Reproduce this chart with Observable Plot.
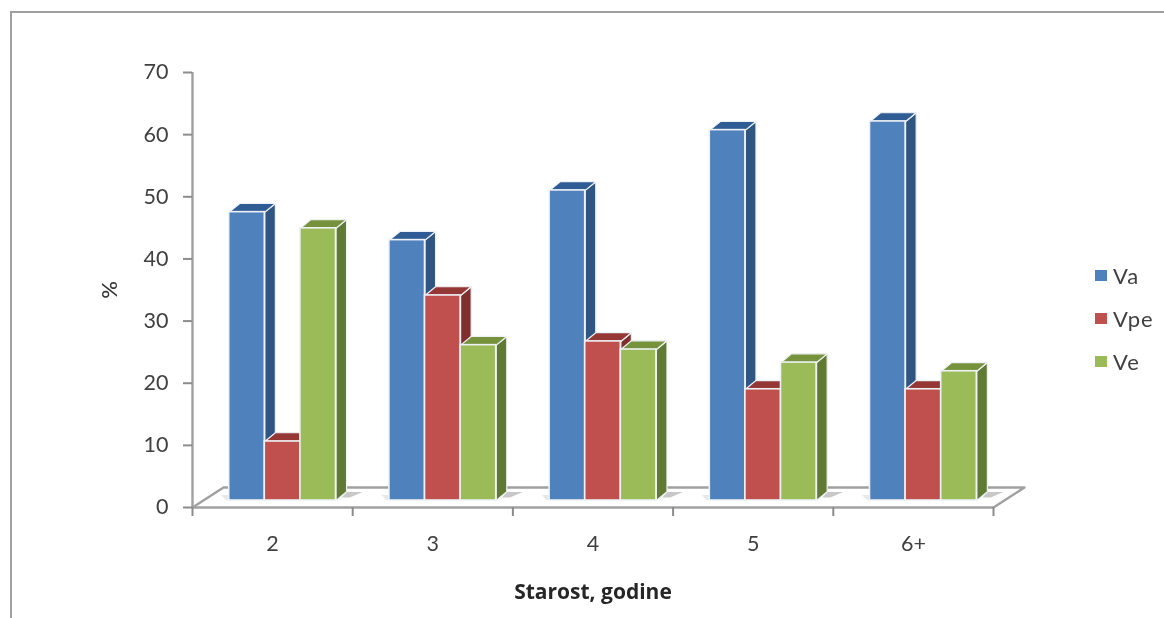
<!DOCTYPE html>
<html>
<head>
<meta charset="utf-8">
<script src="https://cdn.jsdelivr.net/npm/d3@7"></script>
<script src="https://cdn.jsdelivr.net/npm/@observablehq/plot@0.6"></script>
<style>
html,body{margin:0;padding:0;background:#fff;overflow:hidden}
#wrap{position:relative;width:1164px;height:618px;overflow:hidden;font-family:Lato,"Open Sans",sans-serif;filter:blur(0.5px)}
#frame{position:absolute;left:10px;top:11px;width:1170px;height:640px;border:2px solid #a0a0a0;box-sizing:border-box}
#chart{position:absolute;left:0;top:0}
#legend{position:absolute;left:1095px;top:254px;color:#404040;font-size:22px;line-height:43px;letter-spacing:1px}
#legend div{display:flex;align-items:center;height:43px}
#legend i{display:inline-block;width:12px;height:11px;margin-right:6px}
</style>
</head>
<body>
<div id="wrap"><div id="frame"></div><div id="chart"></div><div id="legend"></div></div>
<script>
const categories = ["2", "3", "4", "5", "6+"];
const va  = [46.4, 41.9, 49.9, 59.6, 61.0];
const vpe = [9.5, 33.0, 25.6, 17.9, 17.9];
const ve  = [43.8, 25.0, 24.3, 22.2, 20.8];
const seriesNames = ["Va", "Vpe", "Ve"];
const yTicks = [0, 10, 20, 30, 40, 50, 60, 70];

const frontColors = ["#4f81bd", "#c0504d", "#9bbb59"];
const sideColors  = ["#2f5580", "#7f2f2d", "#617a33"];
const topColors   = ["#2f5c94", "#953735", "#76923c"];
const values = [va, vpe, ve];

// depths expressed in data units
const barW = 2 / 9, sideGap = 1 / 6;
const depthX = 0.066, depthY = 1.4;
const floorX = 0.1935, floorY = 3.22;
const n = categories.length;

const barRows = k => values[k].map((v, i) => ({
  x1: i + sideGap + k * barW, x2: i + sideGap + (k + 1) * barW, y: v
}));
const poly = (id, pts) => pts.map(([x, y]) => ({id, x, y}));
const sideRows = k => barRows(k).flatMap((b, i) => poly(i, [
  [b.x2, 0], [b.x2 + depthX, depthY], [b.x2 + depthX, b.y + depthY], [b.x2, b.y]
]));
const topRows = k => barRows(k).flatMap((b, i) => poly(i, [
  [b.x1, b.y], [b.x1 + depthX, b.y + depthY], [b.x2 + depthX, b.y + depthY], [b.x2, b.y]
]));
const shadowRows = categories.flatMap((c, i) => {
  const x = i + sideGap + 3 * barW + depthX;
  return poly(i, [[x - 0.03, 0.5], [x, 1.35], [x + 0.1, 1.35], [x + 0.02, 0.5]]);
});
const shadowLeft = categories.flatMap((c, i) => {
  const x = i + sideGap;
  return poly(i, [[x - 0.05, 0.9], [x, 0.9], [x, 0.1], [x - 0.02, 0.1]]);
});
const floorRows = [[0, 0], [floorX, floorY], [n + floorX, floorY], [n, 0]].map(([x, y]) => ({x, y}));

const off = {dx: 10, dy: -7};
const barMarks = seriesNames.flatMap((name, k) => [
  Plot.line(sideRows(k), {x: "x", y: "y", z: "id", curve: "linear-closed", fill: sideColors[k], stroke: "#eef2f6", strokeWidth: 1.2, ...off}),
  Plot.line(topRows(k), {x: "x", y: "y", z: "id", curve: "linear-closed", fill: topColors[k], stroke: "#eef2f6", strokeWidth: 1.2, ...off}),
  Plot.rectY(barRows(k), {x1: "x1", x2: "x2", y1: 0, y2: "y", fill: frontColors[k], stroke: "#eef2f6", strokeWidth: 1.6, ...off})
]);

const plot = Plot.plot({
  width: 1164, height: 618,
  marginLeft: 192, marginRight: 171, marginTop: 72, marginBottom: 111,
  style: {background: "transparent", fontFamily: "Lato, 'Open Sans', sans-serif", fontSize: "21px", color: "#404040"},
  x: {domain: [0, n], label: null},
  y: {domain: [0, 70], label: null},
  marks: [
    Plot.line(floorRows, {x: "x", y: "y", stroke: "#a0a0a0", strokeWidth: 2.4, fill: "none"}),
    Plot.line(shadowRows, {x: "x", y: "y", z: "id", curve: "linear-closed", fill: "#b0b0b0", fillOpacity: 0.7, ...off}),
    Plot.line(shadowLeft, {x: "x", y: "y", z: "id", curve: "linear-closed", fill: "#e2e2e2", fillOpacity: 0.8, ...off}),
    Plot.ruleY([0], {stroke: "#a0a0a0", strokeWidth: 2.4}),
    Plot.ruleX([0], {stroke: "#a0a0a0", strokeWidth: 2.4}),
    Plot.axisY({ticks: yTicks, tickSize: 9, tickPadding: 15, stroke: "#8c8c8c", strokeWidth: 2, label: null, fontSize: 21.5, fill: "#404040"}),
    Plot.axisX({ticks: d3.range(n + 1), tickSize: 9, tickFormat: () => "", stroke: "#8c8c8c", strokeWidth: 2, label: null}),
    Plot.axisX({ticks: d3.range(n).map(i => i + 0.5), tickSize: 0, tickPadding: 28, tickFormat: d => categories[Math.floor(d)], label: null, fontSize: 21.5, fill: "#404040"}),
    ...barMarks,
    Plot.text(["Starost, godine"], {x: n / 2, frameAnchor: "bottom", dy: 85, fontWeight: "bold", fontSize: 21, fontFamily: "'Open Sans'", fill: "#262626", lineAnchor: "middle"}),
    Plot.text(["%"], {frameAnchor: "left", textAnchor: "middle", dx: -83, rotate: -90, fontSize: 22, fontWeight: 500, fill: "#333333"})
  ]
});
document.getElementById("chart").append(plot);
const legend = document.getElementById("legend");
seriesNames.forEach((s, k) => {
  const row = document.createElement("div");
  const sw = document.createElement("i");
  sw.style.background = frontColors[k];
  row.append(sw, s);
  legend.append(row);
});
</script>
</body>
</html>
